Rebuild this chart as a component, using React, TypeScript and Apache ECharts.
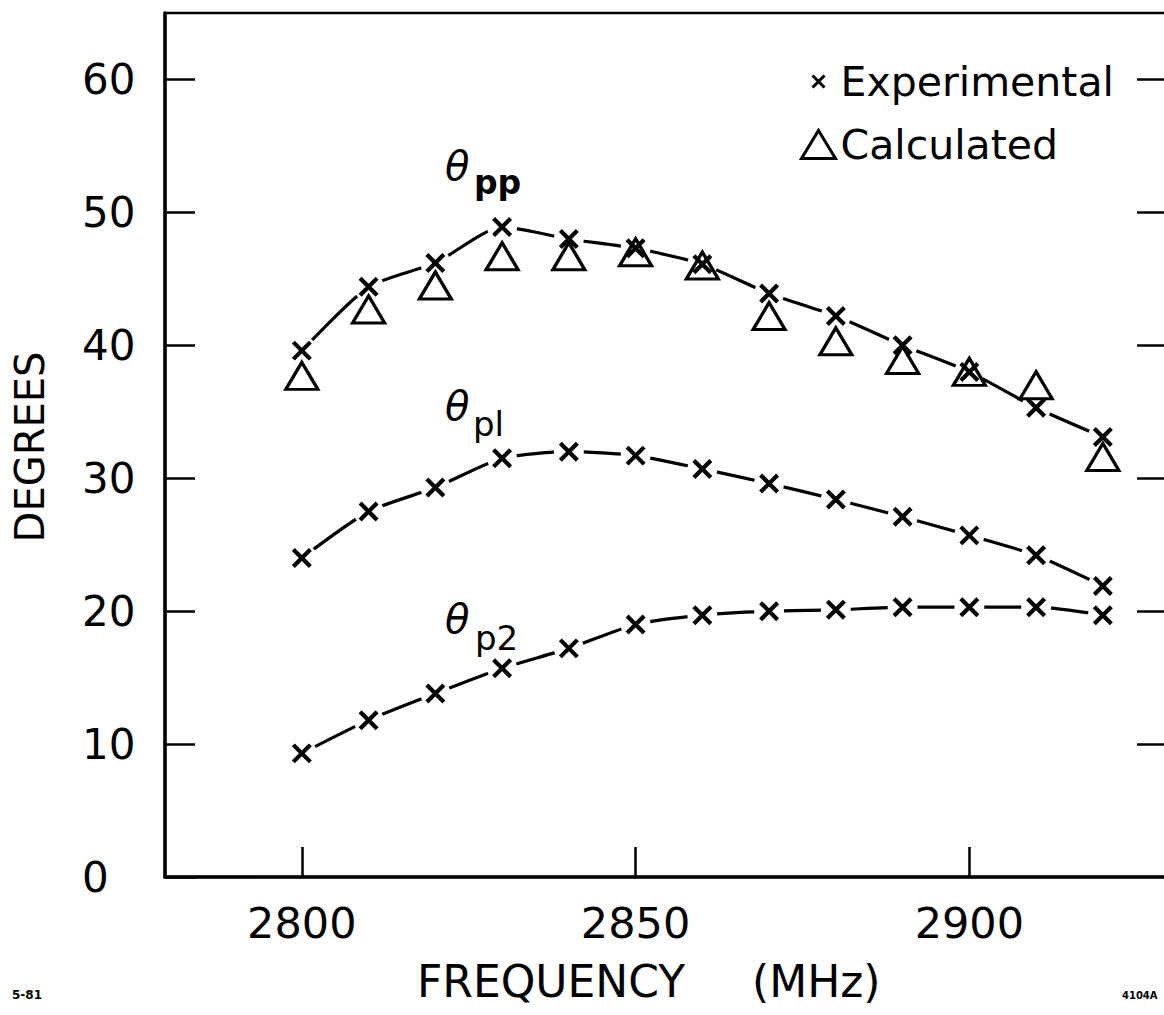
import React, { useEffect, useRef } from 'react';
import * as echarts from 'echarts';

// ---- data ----
const frequencies = [2800, 2810, 2820, 2830, 2840, 2850, 2860, 2870, 2880, 2890, 2900, 2910, 2920];
const thetaPPExperimental = [39.6, 44.4, 46.2, 48.9, 48.0, 47.3, 46.1, 43.9, 42.2, 40.0, 38.0, 35.3, 33.1];
const thetaPPCalculated = [37.7, 42.7, 44.5, 46.7, 46.7, 47.0, 46.0, 42.2, 40.3, 38.9, 38.0, 37.0, 31.6];
const thetaP1Experimental = [24.0, 27.5, 29.3, 31.5, 32.0, 31.7, 30.7, 29.6, 28.4, 27.1, 25.7, 24.2, 21.9];
const thetaP2Experimental = [9.3, 11.8, 13.8, 15.7, 17.2, 19.0, 19.7, 20.0, 20.1, 20.3, 20.3, 20.3, 19.7];

const xTickValues = [2800, 2850, 2900];
const yTickValues = [0, 10, 20, 30, 40, 50, 60];
const yRightTickValues = [10, 20, 30, 40, 50, 60];

const xName = 'FREQUENCY';
const xUnit = '(MHz)';
const yName = 'DEGREES';
const legendNames = ['Experimental', 'Calculated'];

const pairs = (ys: number[]) => frequencies.map((f, i) => [f, ys[i]]);

const FONT = 'DejaVu Sans';
const CROSS = 'path://M0,0L10,10M10,0L0,10';

export default function App() {
  const ref = useRef<HTMLDivElement>(null);

  useEffect(() => {
    if (!ref.current) return;
    const chart = echarts.init(ref.current, undefined, { renderer: 'svg' });

    const allExperimental = [
      ...pairs(thetaPPExperimental),
      ...pairs(thetaP1Experimental),
      ...pairs(thetaP2Experimental),
    ];

    const curve = (name: string, ys: number[]) => ({
      type: 'line',
      name,
      data: pairs(ys),
      smooth: 0.22,
      symbol: 'none',
      showSymbol: false,
      silent: true,
      z: 2,
      lineStyle: { color: '#000', width: 3.2, opacity: 1 },
    });

    const option: any = {
      animation: false,
      backgroundColor: '#fff',
      grid: {
        left: 165,
        top: 13,
        width: 1005,
        height: 864,
        outerBoundsMode: 'none',
        containLabel: false,
        show: true,
        borderColor: '#000',
        borderWidth: 2.5,
        backgroundColor: 'transparent',
      },
      xAxis: {
        type: 'value',
        min: 2779.5,
        max: 2930.06,
        axisLine: { show: true, onZero: false, lineStyle: { color: '#000', width: 3.5 } },
        axisTick: {
          show: true,
          inside: true,
          length: 30,
          customValues: xTickValues,
          lineStyle: { color: '#000', width: 2.5 },
        },
        axisLabel: {
          customValues: xTickValues,
          formatter: (v: number) => String(v),
          margin: 24,
          color: '#000',
          fontFamily: FONT,
          fontSize: 43,
        },
        splitLine: { show: false },
      },
      yAxis: [
        {
          type: 'value',
          min: 0,
          max: 65,
          position: 'left',
          axisLine: { show: true, onZero: false, lineStyle: { color: '#000', width: 3.5 } },
          axisTick: {
            show: true,
            inside: true,
            length: 30,
            customValues: yTickValues,
            lineStyle: { color: '#000', width: 2.5 },
          },
          axisLabel: {
            customValues: yTickValues,
            formatter: (v: number) => String(v),
            align: 'left',
            margin: 83,
            color: '#000',
            fontFamily: FONT,
            fontSize: 42,
          },
          splitLine: { show: false },
        },
        {
          type: 'value',
          min: 0,
          max: 65,
          position: 'right',
          axisLine: { show: false },
          axisTick: {
            show: true,
            inside: true,
            length: 33,
            customValues: yRightTickValues,
            lineStyle: { color: '#000', width: 2.5 },
          },
          axisLabel: { show: false },
          splitLine: { show: false },
        },
      ],
      legend: {
        orient: 'vertical',
        left: 795,
        top: 56,
        itemWidth: 34,
        itemHeight: 28,
        itemGap: 22,
        selectedMode: false,
        textStyle: { fontFamily: FONT, fontSize: 41, color: '#000' },
        data: [
          {
            name: legendNames[0],
            icon: 'path://M0,0M34,28M11,8L23,20M23,8L11,20',
            itemStyle: { color: '#000', borderColor: '#000', borderWidth: 3, opacity: 1 },
          },
          {
            name: legendNames[1],
            icon: 'triangle',
            itemStyle: { color: 'rgba(0,0,0,0)', borderColor: '#000', borderWidth: 3, opacity: 1 },
          },
        ],
      },
      series: [
        curve('theta_pp', thetaPPExperimental),
        curve('theta_p1', thetaP1Experimental),
        curve('theta_p2', thetaP2Experimental),
        {
          type: 'scatter',
          name: 'halo',
          data: allExperimental,
          symbol: 'circle',
          symbolSize: 30,
          silent: true,
          z: 3,
          itemStyle: { color: '#fff', opacity: 1 },
        },
        {
          type: 'scatter',
          name: legendNames[1],
          data: pairs(thetaPPCalculated),
          symbol: 'triangle',
          symbolSize: [32, 27],
          z: 4,
          itemStyle: { color: 'rgba(0,0,0,0)', borderColor: '#000', borderWidth: 3.2, opacity: 1 },
        },
        {
          type: 'scatter',
          name: legendNames[0],
          data: allExperimental,
          symbol: CROSS,
          symbolSize: 17,
          z: 5,
          itemStyle: { color: '#000', borderColor: '#000', borderWidth: 4.2, opacity: 1 },
        },
      ],
      graphic: [
        {
          type: 'text',
          x: 30,
          y: 447,
          rotation: Math.PI / 2,
          style: { text: yName, fill: '#000', fontFamily: FONT, fontSize: 40, align: 'center', verticalAlign: 'middle' },
        },
        {
          type: 'text',
          x: 417,
          y: 981,
          style: { text: xName, fill: '#000', fontFamily: FONT, fontSize: 44, align: 'left', verticalAlign: 'middle' },
        },
        {
          type: 'text',
          x: 752,
          y: 981,
          style: { text: xUnit, fill: '#000', fontFamily: FONT, fontSize: 44, align: 'left', verticalAlign: 'middle' },
        },
        // curve labels
        { type: 'text', x: 445, y: 166, style: { text: 'θ', fill: '#000', fontFamily: FONT, fontStyle: 'italic', fontSize: 40, verticalAlign: 'middle' } },
        { type: 'text', x: 474, y: 182, style: { text: 'pp', fill: '#000', fontFamily: FONT, fontWeight: 'bold', fontSize: 33, verticalAlign: 'middle' } },
        { type: 'text', x: 445, y: 406, style: { text: 'θ', fill: '#000', fontFamily: FONT, fontStyle: 'italic', fontSize: 40, verticalAlign: 'middle' } },
        { type: 'text', x: 473, y: 424, style: { text: 'pl', fill: '#000', fontFamily: FONT, fontSize: 34, verticalAlign: 'middle' } },
        { type: 'text', x: 445, y: 619, style: { text: 'θ', fill: '#000', fontFamily: FONT, fontStyle: 'italic', fontSize: 40, verticalAlign: 'middle' } },
        { type: 'text', x: 475, y: 638, style: { text: 'p2', fill: '#000', fontFamily: FONT, fontSize: 34, verticalAlign: 'middle' } },
        // corner marks
        { type: 'text', x: 12, y: 995, style: { text: '5-81', fill: '#000', fontFamily: FONT, fontWeight: 'bold', fontSize: 12, verticalAlign: 'middle' } },
        { type: 'text', x: 1122, y: 995, style: { text: '4104A', fill: '#000', fontFamily: FONT, fontWeight: 'bold', fontSize: 10, verticalAlign: 'middle' } },
      ],
    };

    chart.setOption(option);
    return () => chart.dispose();
  }, []);

  return (
    <div
      ref={ref}
      style={{ position: 'fixed', left: 0, top: 0, width: 1164, height: 1015, background: '#fff' }}
    />
  );
}
